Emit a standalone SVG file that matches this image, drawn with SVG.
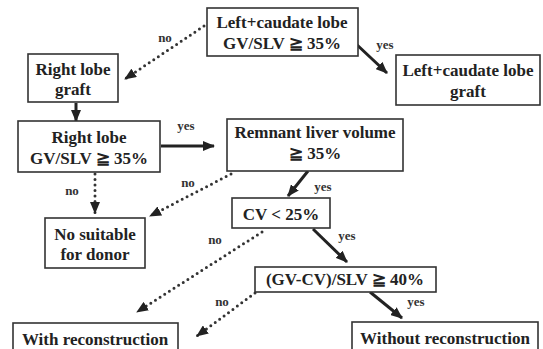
<svg xmlns="http://www.w3.org/2000/svg" width="543" height="349" viewBox="0 0 543 349">
<defs>
<marker id="ah" markerUnits="userSpaceOnUse" markerWidth="12" markerHeight="10" refX="11" refY="5" orient="auto">
<path d="M0,0 L12,5 L0,10 Z" fill="#222"/>
</marker>
<style>
.box{fill:#fff;stroke:#333;stroke-width:1.6}
.t{font-family:"Liberation Serif","Times New Roman",serif;font-weight:bold;font-size:17px;fill:#222;text-anchor:middle}
.l{font-family:"Liberation Serif","Times New Roman",serif;font-weight:bold;font-size:13px;fill:#333;text-anchor:middle}
.s{fill:none;stroke:#222;stroke-width:3;marker-end:url(#ah)}
.d{fill:none;stroke:#333;stroke-width:3;stroke-linecap:round;stroke-dasharray:0 5.5;marker-end:url(#ah)}
</style>
</defs>
<rect width="543" height="349" fill="#fff"/>
<g id="connectors">
<path class="d" d="M204,26 L125,79"/>
<path class="s" d="M355,43 L387,73"/>
<path class="s" d="M76,103 L76,121"/>
<path class="s" d="M161,146 L214,146"/>
<path class="d" d="M95,174 L95,213"/>
<path class="d" d="M231,174 L150,216"/>
<path class="s" d="M308,171 L288,196"/>
<path class="s" d="M313,229 L347,262"/>
<path class="d" d="M262,232 L137,312"/>
<path class="d" d="M255,293 L197,336"/>
<path class="s" d="M370,292 L402,318"/>
<text class="l" x="165" y="42">no</text>
<text class="l" x="385" y="49">yes</text>
<text class="l" x="186" y="130">yes</text>
<text class="l" x="72" y="195">no</text>
<text class="l" x="188" y="187">no</text>
<text class="l" x="323" y="191">yes</text>
<text class="l" x="347" y="240">yes</text>
<text class="l" x="215" y="244">no</text>
<text class="l" x="222" y="306">no</text>
<text class="l" x="416" y="306">yes</text>
</g>
<g id="n1"><rect class="box" x="207" y="8" width="151" height="48"/>
<text class="t" x="282" y="28">Left+caudate lobe</text><text class="t" x="282" y="49">GV/SLV ≧ 35%</text></g>
<g id="n2"><rect class="box" x="28" y="54" width="90" height="48"/>
<text class="t" x="73" y="75">Right lobe</text><text class="t" x="73" y="95">graft</text></g>
<g id="n3"><rect class="box" x="396" y="55" width="144" height="50"/>
<text class="t" x="468" y="76">Left+caudate lobe</text><text class="t" x="468" y="97">graft</text></g>
<g id="n4"><rect class="box" x="18" y="121" width="142" height="51"/>
<text class="t" x="89" y="143">Right lobe</text><text class="t" x="89" y="164">GV/SLV ≧ 35%</text></g>
<g id="n5"><rect class="box" x="227" y="119" width="176" height="52"/>
<text class="t" x="315" y="138">Remnant liver volume</text><text class="t" x="315" y="159">≧ 35%</text></g>
<g id="n6"><rect class="box" x="45" y="218" width="100" height="50"/>
<text class="t" x="95" y="240">No suitable</text><text class="t" x="95" y="260">for donor</text></g>
<g id="n7"><rect class="box" x="232" y="198" width="98" height="30"/>
<text class="t" x="281" y="220">CV &lt; 25%</text></g>
<g id="n8"><rect class="box" x="255" y="267" width="181" height="25"/>
<text class="t" x="345" y="285">(GV-CV)/SLV ≧ 40%</text></g>
<g id="n9"><rect class="box" x="13" y="323" width="165" height="32"/>
<text class="t" x="95" y="345">With reconstruction</text></g>
<g id="n10"><rect class="box" x="352" y="322" width="186" height="33"/>
<text class="t" x="445" y="344">Without reconstruction</text></g>
</svg>
